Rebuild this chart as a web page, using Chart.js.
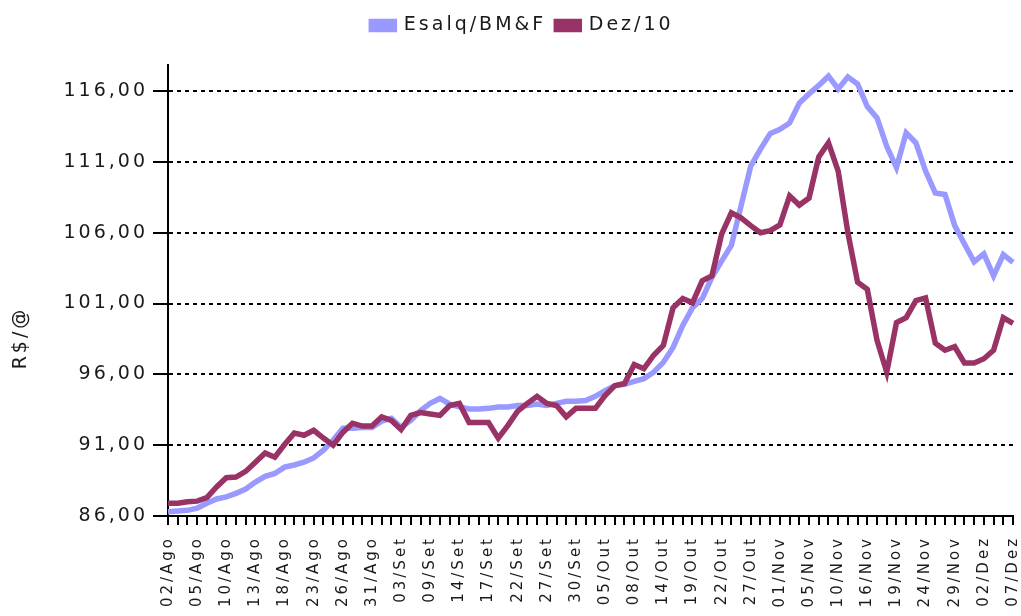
<!DOCTYPE html>
<html>
<head>
<meta charset="utf-8">
<script src="https://cdn.jsdelivr.net/npm/chart.js@4.4.1/dist/chart.umd.min.js"></script>
<style>
  html, body { margin: 0; padding: 0; background: #fff; }
  canvas { display: block; }
</style>
</head>
<body>
<canvas id="priceChart" width="1021" height="616"></canvas>
<script>
// pregões de 02/Ago a 07/Dez
const dates = [
  "02/Ago", "03/Ago", "04/Ago", "05/Ago", "06/Ago", "09/Ago", "10/Ago", "11/Ago", "12/Ago", "13/Ago", "16/Ago",
  "17/Ago", "18/Ago", "19/Ago", "20/Ago", "23/Ago", "24/Ago", "25/Ago", "26/Ago", "27/Ago", "30/Ago", "31/Ago",
  "01/Set", "02/Set", "03/Set", "06/Set", "08/Set", "09/Set", "10/Set", "13/Set", "14/Set", "15/Set", "16/Set",
  "17/Set", "20/Set", "21/Set", "22/Set", "23/Set", "24/Set", "27/Set", "28/Set", "29/Set", "30/Set",
  "01/Out", "04/Out", "05/Out", "06/Out", "07/Out", "08/Out", "11/Out", "13/Out", "14/Out", "15/Out", "18/Out",
  "19/Out", "20/Out", "21/Out", "22/Out", "25/Out", "26/Out", "27/Out", "28/Out", "29/Out",
  "01/Nov", "03/Nov", "04/Nov", "05/Nov", "08/Nov", "09/Nov", "10/Nov", "11/Nov", "12/Nov", "16/Nov", "17/Nov",
  "18/Nov", "19/Nov", "22/Nov", "23/Nov", "24/Nov", "25/Nov", "26/Nov", "29/Nov", "30/Nov",
  "01/Dez", "02/Dez", "03/Dez", "06/Dez", "07/Dez"
];

const esalq = [
  86.3, 86.35, 86.4, 86.55, 86.9, 87.2, 87.35, 87.6, 87.9, 88.4,
  88.8, 89.0, 89.45, 89.6, 89.8, 90.1, 90.65, 91.35, 92.2, 92.2,
  92.25, 92.25, 92.7, 92.9, 92.25, 92.75, 93.45, 93.95, 94.3, 93.9,
  93.7, 93.55, 93.55, 93.6, 93.7, 93.7, 93.8, 93.8, 93.9, 93.8,
  93.95, 94.1, 94.1, 94.15, 94.45, 94.85, 95.2, 95.3, 95.5, 95.7,
  96.15, 96.85, 97.9, 99.45, 100.7, 101.35, 102.85, 104.0, 105.1, 107.9,
  110.7, 111.9, 113.0, 113.3, 113.75, 115.15, 115.8, 116.4, 117.05, 116.15,
  117.0, 116.5, 114.9, 114.1, 112.1, 110.6, 113.05, 112.35, 110.35, 108.8,
  108.7, 106.5, 105.2, 103.95, 104.5, 102.95, 104.45, 103.9
];

const dez10 = [
  86.9, 86.9, 87.0, 87.05, 87.3, 88.05, 88.7, 88.75, 89.15, 89.8,
  90.45, 90.15, 91.05, 91.85, 91.7, 92.05, 91.5, 91.0, 91.9, 92.55,
  92.35, 92.35, 93.0, 92.75, 92.1, 93.1, 93.3, 93.2, 93.1, 93.8,
  93.95, 92.6, 92.6, 92.6, 91.5, 92.4, 93.4, 93.95, 94.45, 93.95,
  93.8, 93.0, 93.6, 93.6, 93.6, 94.5, 95.2, 95.35, 96.7, 96.4,
  97.35, 98.05, 100.7, 101.35, 101.05, 102.6, 102.95, 105.9, 107.4, 107.05,
  106.5, 106.0, 106.15, 106.55, 108.6, 107.95, 108.45, 111.35, 112.35, 110.35,
  106.0, 102.5, 102.0, 98.4, 96.15, 99.65, 100.0, 101.2, 101.4, 98.2,
  97.7, 97.95, 96.8, 96.8, 97.1, 97.7, 100.0, 99.6
];

const seriesNames = ["Esalq/BM&F", "Dez/10"];
const yTicks = [86, 91, 96, 101, 106, 111, 116];
const yMin = 86;
const yMax = 117.84;

Chart.defaults.font.family = "'DejaVu Sans', Verdana, sans-serif";
Chart.defaults.color = "#1a1a1a";

// texto espaçado, legenda mais alta e deslocada, título do eixo Y
const extras = {
  id: "extras",
  beforeUpdate(chart) { chart.ctx.letterSpacing = "3px"; },
  beforeDraw(chart) { chart.ctx.letterSpacing = "3px"; },
  beforeLayout(chart) {
    const lg = chart.legend;
    if (lg && !lg._fixed) {
      const fit = lg.fit.bind(lg);
      lg.fit = function () { fit(); this.height = 65; };
      lg._fixed = true;
    }
  },
  afterLayout(chart) {
    const lg = chart.legend;
    if (!lg) return;
    lg.left += 16;
    lg.right += 16;
    lg.top += 6;
  },
  afterDraw(chart) {
    const ctx = chart.ctx;
    ctx.save();
    ctx.font = "19px 'DejaVu Sans'";
    ctx.fillStyle = "#1a1a1a";
    ctx.textAlign = "center";
    ctx.textBaseline = "middle";
    ctx.translate(21, 338);
    ctx.rotate(-Math.PI / 2);
    ctx.fillText("R$/@", 0, 0);
    ctx.restore();
  }
};

new Chart(document.getElementById("priceChart"), {
  type: "line",
  data: {
    labels: dates,
    datasets: [
      { label: seriesNames[0], data: esalq, borderColor: "#9999ff", backgroundColor: "#9999ff", order: 2 },
      { label: seriesNames[1], data: dez10, borderColor: "#993366", backgroundColor: "#993366", order: 1 }
    ]
  },
  options: {
    responsive: false,
    animation: false,
    layout: { padding: { left: 0, right: 8, top: 0, bottom: 0 } },
    elements: {
      line: { borderWidth: 5.5, tension: 0 },
      point: { radius: 0 }
    },
    plugins: {
      legend: {
        labels: {
          boxWidth: 23,
          boxHeight: 8,
          padding: 10,
          font: { size: 19 },
          color: "#1a1a1a",
          sort: (a, b) => a.datasetIndex - b.datasetIndex
        }
      },
      tooltip: { enabled: false }
    },
    scales: {
      x: {
        offset: false,
        grid: { drawOnChartArea: false, drawTicks: true, color: "#000", lineWidth: 2, tickColor: "#000", tickWidth: 2, tickLength: 9 },
        border: { color: "#000", width: 2 },
        ticks: {
          autoSkip: false,
          minRotation: 90,
          maxRotation: 90,
          padding: 11,
          font: { size: 15 },
          callback: (v, i) => (i % 3 === 0 ? dates[i] : "")
        },
        afterFit(s) {
          s.height = 100;
          s.paddingLeft = 0;
          s.paddingRight = 0;
        }
      },
      y: {
        min: yMin,
        max: yMax,
        afterBuildTicks(s) { s.ticks = yTicks.map(v => ({ value: v })); },
        grid: { color: "#000", lineWidth: 2, tickLength: 15 },
        border: { color: "#000", width: 2, dash: [4, 4] },
        ticks: {
          padding: 5,
          font: { size: 19 },
          callback: v => v.toFixed(2).replace(".", ",")
        },
        afterFit(s) { s.width = 168; }
      }
    }
  },
  plugins: [extras]
});
</script>
</body>
</html>
